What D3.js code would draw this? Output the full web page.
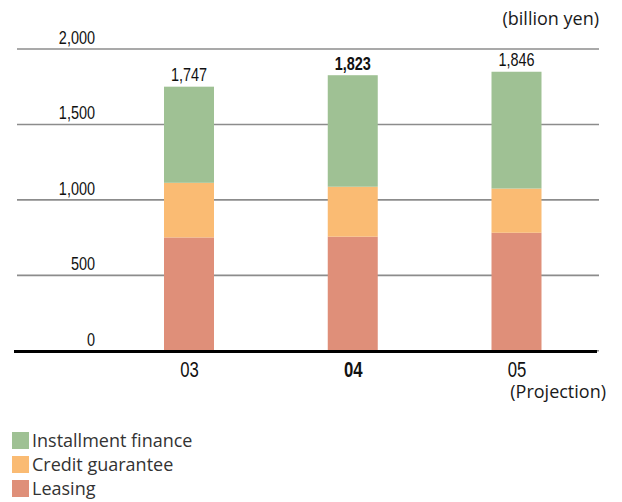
<!DOCTYPE html>
<html>
<head>
<meta charset="utf-8">
<script src="https://cdn.jsdelivr.net/npm/d3@7"></script>
<style>
  html, body { margin: 0; padding: 0; background: #fff; }
  svg { display: block; }
  .num { font-family: "Liberation Sans", Arial, sans-serif; }
  .txt { font-family: "Open Sans", "Noto Sans", sans-serif; }
</style>
</head>
<body>
<svg id="chart" width="622" height="502"></svg>
<script>
// Fiscal years and per-segment balances (billion yen)
const years = ["03", "04", "05"];
const leasing = [748, 753, 779];
const creditGuarantee = [362, 331, 293];
const installmentFinance = [637, 739, 774];
const totals = [1747, 1823, 1846];
const yTicks = [0, 500, 1000, 1500, 2000];
const seriesNames = ["Installment finance", "Credit guarantee", "Leasing"];
const seriesColors = ["#9fc194", "#fabb73", "#df8f79"];
const boldYear = "04";

const svg = d3.select("#chart");

// Squeeze numeric labels horizontally to get a narrow face
function condense(sel, factor) {
  sel.each(function () {
    const w = this.getComputedTextLength();
    d3.select(this)
      .attr("textLength", w * factor)
      .attr("lengthAdjust", "spacingAndGlyphs");
  });
}

const y = d3.scaleLinear().domain([0, 2000]).range([350.3, 48.5]);
const x = d3.scalePoint().domain(years).range([189, 516.5]);
const barW = 50;

// Horizontal gridlines with value labels sitting above each line
const gridLeft = 17, gridRight = 599;
const yAxis = d3.axisLeft(y)
  .tickValues(yTicks)
  .tickFormat(d3.format(","))
  .tickSizeInner(-(gridRight - gridLeft))
  .tickSizeOuter(0);
const gy = svg.append("g")
  .attr("transform", `translate(${gridLeft},0)`)
  .call(yAxis);
gy.select(".domain").remove();
gy.selectAll(".tick line").attr("stroke", "#8c8c8c").attr("stroke-width", 1.6);
gy.selectAll(".tick text")
  .attr("class", "num")
  .attr("x", 78)
  .attr("dy", -5)
  .attr("text-anchor", "end")
  .attr("fill", "#111")
  .style("font-size", "19px")
  .call(condense, 0.76);

// Stacked bars: leasing at the bottom, then credit guarantee, then installment finance
const rows = years.map((yr, i) => ({
  year: yr,
  Leasing: leasing[i],
  "Credit guarantee": creditGuarantee[i],
  "Installment finance": installmentFinance[i]
}));
const stackKeys = ["Leasing", "Credit guarantee", "Installment finance"];
const color = d3.scaleOrdinal().domain(seriesNames).range(seriesColors);
const stacked = d3.stack().keys(stackKeys)(rows);

svg.append("g").selectAll("g")
  .data(stacked)
  .join("g")
  .attr("fill", d => color(d.key))
  .selectAll("rect")
  .data(d => d)
  .join("rect")
  .attr("x", d => x(d.data.year) - barW / 2)
  .attr("width", barW)
  .attr("y", d => y(d[1]))
  .attr("height", d => y(d[0]) - y(d[1]));

// Total labels above each bar
svg.append("g").selectAll("text")
  .data(years)
  .join("text")
  .attr("class", "num")
  .attr("x", d => x(d))
  .attr("y", (d, i) => y(totals[i]) - 5.5)
  .attr("text-anchor", "middle")
  .attr("fill", "#111")
  .style("font-size", "19px")
  .style("font-weight", d => d === boldYear ? "bold" : "normal")
  .text((d, i) => d3.format(",")(totals[i]))
  .call(condense, 0.76);

// Baseline and year axis
const xAxis = d3.axisBottom(x).tickSize(0);
const gx = svg.append("g")
  .attr("transform", `translate(0,${y(0) + 1.2})`)
  .call(xAxis);
gx.select(".domain").remove();
gx.selectAll(".tick text")
  .attr("class", "num")
  .attr("y", 25)
  .attr("dy", 0)
  .attr("fill", "#111")
  .style("font-size", "22px")
  .style("font-weight", d => d === boldYear ? "bold" : "normal")
  .call(condense, 0.76);

svg.append("line")
  .attr("x1", 14).attr("x2", 597)
  .attr("y1", y(0) + 1.2).attr("y2", y(0) + 1.2)
  .attr("stroke", "#000")
  .attr("stroke-width", 3);

svg.append("text")
  .attr("class", "txt")
  .attr("x", 606).attr("y", 398)
  .attr("text-anchor", "end")
  .attr("fill", "#1a1a1a")
  .style("font-size", "18px")
  .text("(Projection)");

// Unit label
svg.append("text")
  .attr("class", "txt")
  .attr("x", 599).attr("y", 25)
  .attr("text-anchor", "end")
  .attr("fill", "#1a1a1a")
  .style("font-size", "18px")
  .text("(billion yen)");

// Legend
const legend = svg.append("g").attr("transform", "translate(12,432)");
const item = legend.selectAll("g")
  .data(seriesNames)
  .join("g")
  .attr("transform", (d, i) => `translate(0,${i * 24})`);
item.append("rect")
  .attr("width", 17).attr("height", 17)
  .attr("fill", d => color(d));
item.append("text")
  .attr("class", "txt")
  .attr("x", 20).attr("y", 14.5)
  .attr("fill", "#333")
  .style("font-size", "18px")
  .text(d => d);
</script>
</body>
</html>
